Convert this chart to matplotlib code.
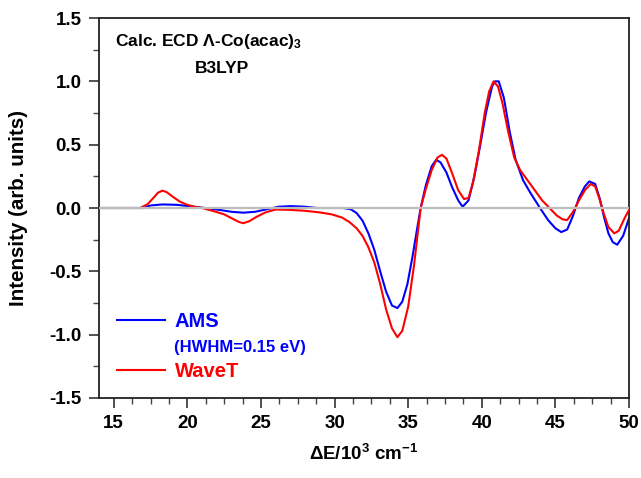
import numpy as np
import matplotlib.pyplot as plt
from matplotlib.lines import Line2D
from matplotlib.ticker import MultipleLocator

plt.rcParams['font.family'] = ['Liberation Sans', 'DejaVu Sans']
plt.rcParams['font.weight'] = 'bold'
plt.rcParams['mathtext.fontset'] = 'custom'
plt.rcParams['mathtext.rm'] = 'Liberation Sans:bold'
plt.rcParams['mathtext.bf'] = 'Liberation Sans:bold'
plt.rcParams['mathtext.it'] = 'Liberation Sans:bold'
plt.rcParams['mathtext.default'] = 'bf'

# WaveT spectrum
wavet_x = [14.0, 16.8, 17.3, 17.7, 18.0, 18.3, 18.6, 19.0, 19.5, 20.0, 20.5, 21.0, 21.8, 22.5,
           23.0, 23.5, 23.8, 24.2, 24.7, 25.3, 26.0, 27.0, 28.0, 29.0, 29.8, 30.5, 31.0, 31.5,
           31.9, 32.3, 32.7, 33.1, 33.5, 33.9, 34.27, 34.6, 35.0, 35.4, 35.85, 36.2, 36.6, 37.0,
           37.3, 37.6, 38.0, 38.4, 38.8, 39.1, 39.4, 39.8, 40.2, 40.5, 40.8, 41.1, 41.4, 41.8,
           42.2, 42.6, 43.1, 43.6, 44.1, 44.6, 45.1, 45.5, 45.8, 46.2, 46.6, 47.0, 47.4, 47.7,
           48.0, 48.3, 48.6, 49.0, 49.3, 49.7, 50.0]
wavet_y = [0.0, 0.0, 0.03, 0.08, 0.12, 0.137, 0.125, 0.09, 0.05, 0.025, 0.01, 0.0, -0.025,
           -0.05, -0.08, -0.11, -0.12, -0.105, -0.07, -0.035, -0.012, -0.015, -0.022, -0.035,
           -0.05, -0.075, -0.11, -0.16, -0.22, -0.31, -0.43, -0.6, -0.8, -0.95, -1.02, -0.97,
           -0.78, -0.45, 0.0, 0.15, 0.3, 0.4, 0.42, 0.39, 0.27, 0.14, 0.07, 0.08, 0.2, 0.45,
           0.75, 0.92, 1.0, 0.96, 0.83, 0.6, 0.4, 0.3, 0.22, 0.14, 0.06, 0.0, -0.06, -0.09,
           -0.095, -0.03, 0.06, 0.14, 0.19, 0.17, 0.07, -0.05, -0.15, -0.2, -0.18, -0.08, -0.015]

# AMS spectrum (HWHM = 0.15 eV)
ams_x = [14.0, 17.0, 17.5, 18.3, 19.3, 20.3, 21.2, 22.2, 23.0, 23.8, 24.6, 25.4, 26.2, 27.0,
         28.0, 28.8, 30.6, 31.1, 31.5, 31.9, 32.3, 32.7, 33.1, 33.5, 33.9, 34.27, 34.6, 34.95,
         35.3, 35.6, 35.85, 36.2, 36.6, 36.9, 37.2, 37.6, 38.0, 38.4, 38.7, 39.1, 39.5, 39.9,
         40.3, 40.7, 40.9, 41.15, 41.5, 41.9, 42.3, 42.8, 43.3, 43.9, 44.5, 45.0, 45.4, 45.8,
         46.2, 46.6, 47.0, 47.3, 47.7, 48.0, 48.3, 48.6, 48.9, 49.2, 49.6, 50.0]
ams_y = [0.0, 0.0, 0.02, 0.028, 0.025, 0.012, 0.0, -0.015, -0.03, -0.037, -0.03, -0.01, 0.01,
         0.015, 0.01, 0.0, 0.0, -0.01, -0.04, -0.1, -0.2, -0.33, -0.5, -0.66, -0.77, -0.79,
         -0.74, -0.6, -0.38, -0.17, 0.0, 0.18, 0.33, 0.38, 0.36, 0.28, 0.16, 0.06, 0.01, 0.06,
         0.25, 0.5, 0.76, 0.96, 1.0, 1.0, 0.87, 0.6, 0.38, 0.22, 0.12, 0.01, -0.095, -0.16,
         -0.19, -0.17, -0.06, 0.08, 0.17, 0.21, 0.19, 0.08, -0.07, -0.2, -0.27, -0.29, -0.22,
         -0.08]

fig = plt.figure(figsize=(6.41, 4.78), dpi=100)
ax = fig.add_axes([0.1544, 0.1674, 0.8269, 0.7949])

ax.plot(ams_x, ams_y, color='#0000ff', lw=1.5, zorder=2)
ax.plot(wavet_x, wavet_y, color='#ff0000', lw=1.5, zorder=3)
ax.axhline(0, color='#bdbdbd', lw=1.6, zorder=4)

ax.set_xlim(14, 50)
ax.set_ylim(-1.5, 1.5)
ax.set_xticks([15, 20, 25, 30, 35, 40, 45, 50])
ax.xaxis.set_minor_locator(MultipleLocator(1.25))
ax.set_yticks(np.arange(-1.5, 1.51, 0.5))
ax.set_yticklabels(['%.1f' % v for v in np.arange(-1.5, 1.51, 0.5)])
ax.yaxis.set_minor_locator(MultipleLocator(0.25))
ax.tick_params(which='major', direction='out', length=7.5, width=1.1, labelsize=13.5, pad=5,
               colors='#222222', labelcolor='black')
ax.tick_params(which='minor', direction='out', length=4, width=1.0, colors='#444444')
for s in ax.spines.values():
    s.set_linewidth(1.3)
    s.set_color('#222222')

ax.set_xlabel(r'$\Delta$E/10$^{3}$ cm$^{-1}$', fontsize=13.5, fontweight='bold', labelpad=8)
ax.set_ylabel('Intensity (arb. units)', fontsize=14.8, fontweight='bold')
ax.yaxis.set_label_coords(-0.134, 0.5)

ax.text(0.03, 0.937, 'Calc. ECD \u039b-Co(acac)$_3$', transform=ax.transAxes, fontsize=12.5,
        fontweight='bold', va='center', ha='left')
ax.text(0.232, 0.868, 'B3LYP', transform=ax.transAxes, fontsize=12.5, fontweight='bold',
        va='center', ha='center')

handles = [Line2D([], [], color='#0000ff', lw=1.5),
           Line2D([], [], color='none'),
           Line2D([], [], color='#ff0000', lw=1.5)]
leg = ax.legend(handles, ['AMS', '(HWHM=0.15 eV)', 'WaveT'], loc='upper left',
                bbox_to_anchor=(0.0, 0.274), frameon=False, handlelength=2.4,
                handletextpad=0.45, labelspacing=0.35,
                labelcolor=['#0000ff', '#0000ff', '#ff0000'], prop={'weight': 'bold', 'size': 14.5})
leg.get_texts()[1].set_fontsize(12)

fig.savefig('out.png', dpi=100)
